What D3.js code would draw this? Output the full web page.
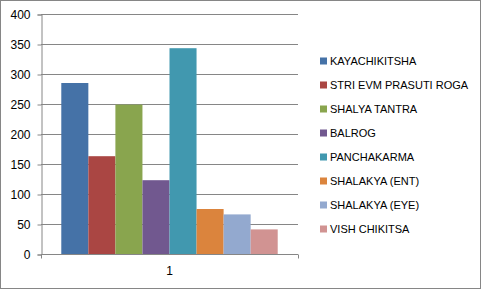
<!DOCTYPE html>
<html>
<head>
<meta charset="utf-8">
<script src="https://cdn.jsdelivr.net/npm/d3@7"></script>
<style>
  body { margin: 0; background: #fff; }
  svg text { font-family: "Liberation Sans", Arial, sans-serif; fill: #000; }
</style>
</head>
<body>
<svg id="chart" width="481" height="289"></svg>
<script>
// chart data
var categories = ['1'];
var seriesNames = ['KAYACHIKITSHA', 'STRI EVM PRASUTI ROGA', 'SHALYA TANTRA', 'BALROG',
                   'PANCHAKARMA', 'SHALAKYA (ENT)', 'SHALAKYA (EYE)', 'VISH CHIKITSA'];
var seriesValues = [285, 163, 249, 123, 343, 75, 66, 41];
var seriesColors = ['#4572A7', '#AA4643', '#89A54E', '#71588F', '#4198AF', '#DB843D', '#93A9CF', '#D19392'];
var yTicks = [0, 50, 100, 150, 200, 250, 300, 350, 400];

var svg = d3.select('#chart');

// outer border
svg.append('rect')
    .attr('x', 0.5).attr('y', 0.5)
    .attr('width', 480).attr('height', 288)
    .attr('fill', '#fff')
    .attr('stroke', '#868686');

// plot area edges
var plotLeft = 41, plotRight = 298, plotTop = 14, plotBottom = 254;

var y = d3.scaleLinear().domain([0, 400]).range([plotBottom, plotTop]);
var x0 = d3.scaleBand().domain(categories).range([plotLeft, plotRight]);
var x1 = d3.scaleBand().domain(seriesNames).range([0, x0.bandwidth()])
    .paddingInner(0).paddingOuter(0.75);

// gridlines
svg.append('g').selectAll('line')
    .data(yTicks.filter(function(d) { return d > 0; }))
    .enter().append('line')
    .attr('x1', plotLeft).attr('x2', plotRight)
    .attr('y1', function(d) { return Math.round(y(d)) + 0.5; })
    .attr('y2', function(d) { return Math.round(y(d)) + 0.5; })
    .attr('stroke', '#868686');

// bars
svg.append('g').selectAll('rect')
    .data(seriesValues)
    .enter().append('rect')
    .attr('x', function(d, i) { return x0(categories[0]) + x1(seriesNames[i]); })
    .attr('y', function(d) { return y(d); })
    .attr('width', x1.bandwidth())
    .attr('height', function(d) { return y(0) - y(d); })
    .attr('fill', function(d, i) { return seriesColors[i]; });

// y axis
var yAxis = d3.axisLeft(y).tickValues(yTicks).tickSize(4).tickPadding(7);
var gy = svg.append('g')
    .attr('transform', 'translate(' + (plotLeft + 0.5) + ',0.5)')
    .call(yAxis);
gy.selectAll('.domain').attr('stroke', '#868686');
gy.selectAll('.tick line').attr('stroke', '#868686');
gy.selectAll('text').style('font-size', '12px').attr('fill', '#000');

// x axis
var xAxis = d3.axisBottom(x0).tickSize(0).tickPadding(12);
var gx = svg.append('g')
    .attr('transform', 'translate(0,' + (plotBottom + 0.5) + ')')
    .call(xAxis);
gx.select('.domain').attr('stroke', '#868686').attr('d', 'M' + plotLeft + ',0H' + plotRight);
gx.selectAll('text').style('font-size', '12px').attr('fill', '#000');
// category boundary ticks
gx.selectAll('.edge')
    .data([plotLeft, plotRight])
    .enter().append('line')
    .attr('x1', function(d) { return d + 0.5; })
    .attr('x2', function(d) { return d + 0.5; })
    .attr('y1', 0).attr('y2', 4)
    .attr('stroke', '#868686');

// legend
var legend = svg.append('g').selectAll('g')
    .data(seriesNames)
    .enter().append('g')
    .attr('transform', function(d, i) { return 'translate(320,' + (61 + i * 24) + ')'; });
legend.append('rect')
    .attr('x', 0).attr('y', -3.5)
    .attr('width', 7).attr('height', 7)
    .attr('fill', function(d, i) { return seriesColors[i]; });
legend.append('text')
    .attr('x', 10).attr('y', 4)
    .style('font-size', '11px')
    .text(function(d) { return d; });
</script>
</body>
</html>
